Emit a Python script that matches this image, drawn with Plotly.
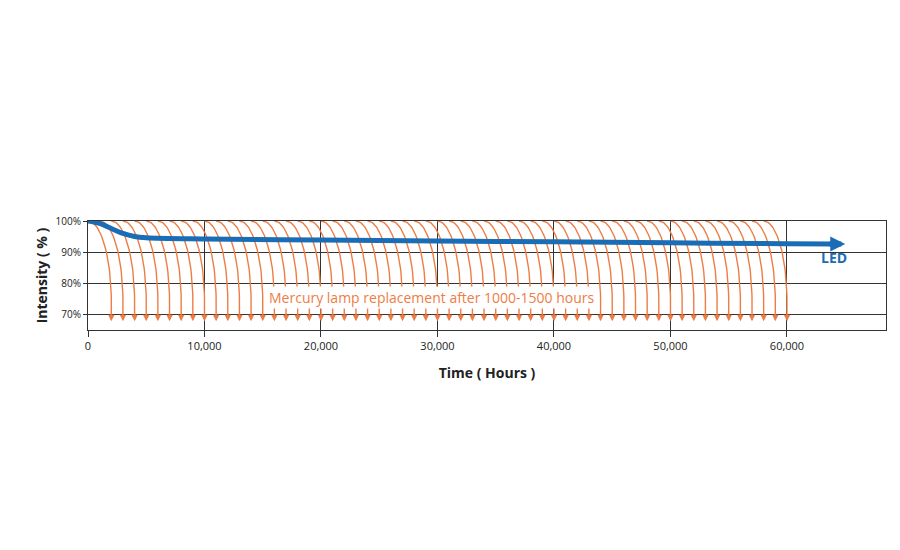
import plotly.graph_objects as go
import numpy as np

# LED lumen maintenance (hours, % intensity)
led_hours = [0, 1000, 2000, 3000, 4000, 5000, 10000, 20000, 30000, 40000, 50000, 60000, 64000]
led_intensity = [100, 99.2, 97.6, 96.0, 95.0, 94.6, 94.2, 93.9, 93.6, 93.3, 93.0, 92.7, 92.6]

# start hour of each mercury lamp cycle (one new lamp roughly every 1000 h)
lamp_starts = list(range(0, 59000, 1000))
lamp_life = 2000      # hours from start to drop-off
drop_level = 69       # % where the curve ends

y_ticks = [70, 80, 90, 100]
y_labels = ["70%", "80%", "90%", "100%"]

orange = "#ee7d45"
blue = "#1a6db5"

fig = go.Figure()

t = np.linspace(0, np.pi / 2, 30)
for s in lamp_starts:
    xs = s + lamp_life * np.sin(t)
    ys = 100 - (100 - 74) * (1 - np.cos(t))
    xs = np.append(xs, s + lamp_life)
    ys = np.append(ys, drop_level)
    fig.add_trace(go.Scatter(x=xs, y=ys, mode="lines", line=dict(color=orange, width=1.4),
                             hoverinfo="skip", showlegend=False))
    fig.add_annotation(x=s + lamp_life, y=67.8, ax=s + lamp_life, ay=drop_level + 0.5,
                       xref="x", yref="y", axref="x", ayref="y", text="",
                       showarrow=True, arrowhead=2, arrowsize=1, arrowwidth=1.3, arrowcolor=orange)

fig.add_trace(go.Scatter(x=led_hours, y=led_intensity, mode="lines", line=dict(color=blue, width=5, shape="spline"),
                         showlegend=False))
fig.add_annotation(x=65000, y=led_intensity[-1], ax=led_hours[-1] - 500, ay=led_intensity[-1],
                   xref="x", yref="y", axref="x", ayref="y", text="",
                   showarrow=True, arrowhead=2, arrowsize=0.6, arrowwidth=5, arrowcolor=blue)
fig.add_annotation(x=64000, y=88.3, text="<b>LED</b>", showarrow=False,
                   font=dict(color=blue, size=14, family="Open Sans"))
fig.add_annotation(x=29500, y=75.5, text="Mercury lamp replacement after 1000-1500 hours", showarrow=False,
                   font=dict(color=orange, size=14, family="Open Sans"), bgcolor="white", borderpad=1)

fig.update_layout(
    width=900, height=550,
    margin=dict(l=80, r=22, t=213, b=228),
    plot_bgcolor="white", paper_bgcolor="white",
    font=dict(family="Open Sans", color="#222"),
)
fig.update_xaxes(range=[0, 68500], tickvals=[0, 10000, 20000, 30000, 40000, 50000, 60000],
                 tickformat=",", tickfont=dict(size=11, color="#222"), automargin=False,
                 showgrid=True, gridcolor="#333", gridwidth=1, zeroline=False,
                 showline=True, linecolor="#333", mirror=True, ticks="outside", ticklen=6, tickcolor="#333",
                 title=dict(text="<b>Time ( Hours )</b>", font=dict(size=14)))
fig.update_yaxes(range=[65, 100], tickvals=y_ticks, ticktext=y_labels, automargin=False,
                 tickfont=dict(size=10, color="#222"),
                 showgrid=True, gridcolor="#333", gridwidth=1, zeroline=False,
                 showline=True, linecolor="#333", mirror=True, ticks="outside", ticklen=4, tickcolor="#333",
                 title=dict(text="<b>Intensity ( % )</b>", font=dict(size=14), standoff=4))

fig.write_html("out.html")
